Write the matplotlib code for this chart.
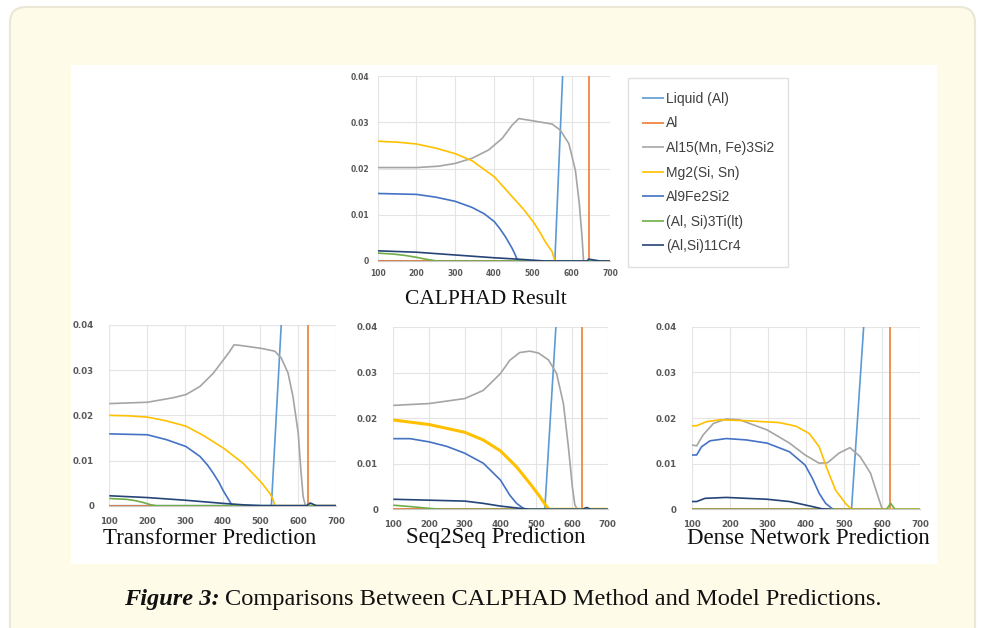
import matplotlib.pyplot as plt
from matplotlib.patches import FancyBboxPatch, Rectangle

W, H = 984, 628

names = ["Liquid (Al)", "Al", "Al15(Mn, Fe)3Si2", "Mg2(Si, Sn)",
         "Al9Fe2Si2", "(Al, Si)3Ti(lt)", "(Al,Si)11Cr4"]
colors = ["#5b9bd5", "#ed7d31", "#a5a5a5", "#ffc000", "#4472c4", "#70ad47", "#264478"]
xticks = [100, 200, 300, 400, 500, 600, 700]
yticks = [0, 0.01, 0.02, 0.03, 0.04]
ytick_labels = ["0", "0.01", "0.02", "0.03", "0.04"]

# CALPHAD result
calphad_liquid = [(100, 0), (557, 0), (577, 0.04)]
calphad_al = [(100, 0), (645, 0), (645, 0.04)]
calphad_al15 = [(100, 0.0202), (200, 0.0202), (257, 0.0205), (300, 0.0211), (343, 0.0222),
                (386, 0.0240), (421, 0.0265), (447, 0.0294), (464, 0.0308), (501, 0.0303),
                (550, 0.0296), (571, 0.0283), (593, 0.0254), (610, 0.0196), (620, 0.0124),
                (627, 0.0053), (631, 0), (700, 0)]
calphad_mg2 = [(100, 0.0259), (150, 0.0257), (200, 0.0253), (250, 0.0244), (300, 0.0232),
               (343, 0.0217), (401, 0.0182), (447, 0.0139), (475, 0.0113), (501, 0.0085),
               (520, 0.0060), (532, 0.0042), (550, 0.0020), (557, 0), (700, 0)]
calphad_al9 = [(100, 0.0146), (200, 0.0144), (250, 0.0138), (300, 0.0129), (343, 0.0116),
               (375, 0.0102), (401, 0.0085), (415, 0.0070), (429, 0.0053), (447, 0.0027),
               (455, 0.0013), (461, 0), (700, 0)]
calphad_ti = [(100, 0.0017), (140, 0.0015), (171, 0.0012), (200, 0.0008), (223, 0.0004),
              (253, 0), (700, 0)]
calphad_cr4 = [(100, 0.0022), (200, 0.0019), (300, 0.0013), (400, 0.0007), (461, 0.0004),
               (532, 0), (640, 0), (644, 0.0004), (674, 0), (700, 0)]

# Transformer prediction
trans_liquid = [(100, 0), (529, 0), (555, 0.04)]
trans_al = [(100, 0), (626, 0), (626, 0.04)]
trans_al15 = [(100, 0.0226), (201, 0.0229), (269, 0.0239), (303, 0.0246), (340, 0.0264),
              (375, 0.0293), (403, 0.0324), (419, 0.0342), (430, 0.0356), (445, 0.0355),
              (504, 0.0348), (538, 0.0342), (555, 0.0327), (573, 0.0294), (586, 0.0242),
              (600, 0.0161), (607, 0.0079), (613, 0.0020), (619, 0), (700, 0)]
trans_mg2 = [(100, 0.0200), (150, 0.0199), (201, 0.0196), (250, 0.0188), (303, 0.0176),
             (350, 0.0155), (403, 0.0127), (454, 0.0094), (504, 0.0050), (525, 0.0027),
             (534, 0.0013), (538, 0), (700, 0)]
trans_al9 = [(100, 0.0159), (201, 0.0157), (252, 0.0146), (303, 0.0131), (340, 0.0109),
             (360, 0.0090), (375, 0.0072), (390, 0.0052), (403, 0.0031), (419, 0.0009),
             (425, 0.0001), (430, 0), (700, 0)]
trans_ti = [(100, 0.0016), (146, 0.0014), (170, 0.0011), (190, 0.0007), (210, 0.0002),
            (225, 0), (700, 0)]
trans_cr4 = [(100, 0.0022), (201, 0.0018), (303, 0.0012), (403, 0.0005), (454, 0.0002),
             (504, 0), (622, 0), (632, 0.0006), (648, 0), (700, 0)]

# Seq2Seq prediction
seq_liquid = [(100, 0), (524, 0), (555, 0.04)]
seq_al = [(100, 0), (629, 0), (629, 0.04)]
seq_al15 = [(100, 0.0228), (200, 0.0232), (300, 0.0243), (352, 0.0261), (400, 0.0298),
            (426, 0.0327), (454, 0.0344), (482, 0.0347), (506, 0.0343), (534, 0.0328),
            (557, 0.0298), (576, 0.0232), (590, 0.0137), (601, 0.0050), (608, 0.0010),
            (615, 0), (700, 0)]
seq_mg2 = [(100, 0.0196), (200, 0.0186), (300, 0.0169), (352, 0.0152), (400, 0.0128),
           (445, 0.0093), (482, 0.0057), (510, 0.0028), (529, 0.0006), (535, 0), (700, 0)]
seq_al9 = [(100, 0.0155), (147, 0.0155), (200, 0.0148), (250, 0.0138), (300, 0.0123),
           (352, 0.0101), (400, 0.0064), (426, 0.0031), (445, 0.0013), (464, 0.0002),
           (478, 0), (700, 0)]
seq_ti = [(100, 0.0009), (147, 0.0006), (201, 0.0002), (240, 0), (700, 0)]
seq_cr4 = [(100, 0.0022), (200, 0.0020), (300, 0.0018), (352, 0.0013), (400, 0.0007),
           (445, 0.0003), (482, 0), (630, 0), (641, 0.0004), (652, 0), (700, 0)]

# Dense network prediction
dense_liquid = [(100, 0), (520, 0), (552, 0.04)]
dense_al = [(100, 0), (622, 0), (622, 0.04)]
dense_al15 = [(100, 0.0141), (113, 0.0139), (130, 0.0163), (157, 0.0188), (191, 0.0198),
              (226, 0.0196), (298, 0.0174), (357, 0.0145), (398, 0.0119), (435, 0.0101),
              (457, 0.0102), (487, 0.0123), (516, 0.0135), (543, 0.0115), (570, 0.0079),
              (587, 0.0035), (600, 0.0002), (605, 0), (700, 0)]
dense_mg2 = [(100, 0.0183), (113, 0.0183), (139, 0.0192), (174, 0.0196), (243, 0.0194),
             (330, 0.0190), (374, 0.0182), (409, 0.0166), (435, 0.0137), (457, 0.0086),
             (478, 0.0042), (504, 0.0013), (520, 0), (700, 0)]
dense_al9 = [(100, 0.0119), (113, 0.0119), (126, 0.0137), (148, 0.0150), (191, 0.0155),
             (243, 0.0152), (298, 0.0145), (357, 0.0126), (398, 0.0097), (417, 0.0068),
             (435, 0.0035), (452, 0.0013), (470, 0.0001), (478, 0)]
dense_ti = [(100, 0), (612, 0), (623, 0.0013), (634, 0), (700, 0)]
dense_cr4 = [(100, 0.0017), (113, 0.0017), (135, 0.0024), (191, 0.0026), (298, 0.0022),
             (357, 0.0017), (417, 0.0006), (443, 0.0001), (465, 0)]

# title, axes box in pixels (left, top, right, bottom), title centre, tick size, title size, series
panels = [
    ("CALPHAD Result", (377.7, 76, 610.3, 261), (486, 300), 5.5, 15.5,
     [calphad_liquid, calphad_al, calphad_al15, calphad_mg2, calphad_al9, calphad_ti, calphad_cr4]),
    ("Transformer Prediction", (109.3, 325, 336, 505.7), (210, 538), 6.2, 16.5,
     [trans_liquid, trans_al, trans_al15, trans_mg2, trans_al9, trans_ti, trans_cr4]),
    ("Seq2Seq Prediction", (393.3, 327, 607.7, 509.3), (496, 538), 6.2, 16.5,
     [seq_liquid, seq_al, seq_al15, seq_mg2, seq_al9, seq_ti, seq_cr4]),
    ("Dense Network Prediction", (691.7, 326.7, 920, 509.3), (808, 538), 6.2, 16.5,
     [dense_liquid, dense_al, dense_al15, dense_mg2, dense_al9, dense_ti, dense_cr4]),
]

fig = plt.figure(figsize=(W / 100, H / 100), dpi=100)
fig.patch.set_facecolor("white")

# page background: cream card + white figure area, in pixel units
bg = fig.add_axes([0, 0, 1, 1], zorder=-1)
bg.set_xlim(0, W)
bg.set_ylim(H, 0)
bg.axis("off")
bg.add_patch(FancyBboxPatch((10, 7), 965, 640, boxstyle="round,pad=0,rounding_size=16",
                            facecolor="#fffbe9", edgecolor="#ebe7d5", lw=1.5))
bg.add_patch(Rectangle((71, 65), 866, 499, facecolor="white", edgecolor="none"))

for title, (l, t, r, b), (tx, ty), fs, tfs, series in panels:
    ax = fig.add_axes([l / W, 1 - b / H, (r - l) / W, (b - t) / H])
    for i, pts in enumerate(series):
        xs = [p[0] for p in pts]
        ys = [p[1] for p in pts]
        lw = 1.2
        if title.startswith("Seq2Seq") and i == 3:
            lw = 2.2
        ax.plot(xs, ys, color=colors[i], lw=lw, label=names[i], zorder=2 + i,
                solid_capstyle="butt", solid_joinstyle="round")
    ax.set_xlim(100, 700)
    ax.set_ylim(0, 0.04)
    ax.set_xticks(xticks)
    ax.set_yticks(yticks)
    ax.set_yticklabels(ytick_labels)
    ax.grid(True, color="#e4e4e4", lw=0.8)
    ax.set_axisbelow(True)
    for s in ["top", "right", "left"]:
        ax.spines[s].set_visible(False)
    ax.spines["bottom"].set_color("#c8c8c8")
    ax.spines["bottom"].set_linewidth(0.8)
    ax.tick_params(length=0, labelsize=fs, labelcolor="#595959")
    if title.startswith("CALPHAD"):
        ax.tick_params(axis="x", pad=6)
        ax.tick_params(axis="y", pad=6)
    else:
        ax.tick_params(axis="x", pad=8)
        ax.tick_params(axis="y", pad=11)
    for lab in ax.get_xticklabels() + ax.get_yticklabels():
        lab.set_fontweight("bold")
    bg.text(tx, ty, title, ha="center", va="center", fontsize=tfs,
            family="Liberation Serif", color="#111111")
    if title.startswith("CALPHAD"):
        handles, labels = ax.get_legend_handles_labels()

leg = fig.legend(handles, labels, loc="upper left", bbox_to_anchor=(628 / W, 1 - 78 / H),
                 borderaxespad=0, frameon=True, fancybox=False,
                 handlelength=1.6, handletextpad=0.15, labelspacing=0.76, borderpad=1.0,
                 prop={"family": "Liberation Sans", "size": 10})
leg.get_frame().set_edgecolor("#d9d9d9")
leg.get_frame().set_linewidth(1.0)
for txt in leg.get_texts():
    txt.set_color("#404040")

# caption with bold italic lead-in
cap1 = bg.text(124, 600, "Figure 3:", ha="left", va="center", fontsize=17.6,
               family="Liberation Serif", weight="bold", style="italic", color="#111111")
fig.canvas.draw()
bb = cap1.get_window_extent()
x_end = bg.transData.inverted().transform((bb.x1, bb.y0))[0]
bg.text(x_end + 5, 600, "Comparisons Between CALPHAD Method and Model Predictions.",
        ha="left", va="center", fontsize=17.6, family="Liberation Serif", color="#111111")

fig.savefig("out.png", dpi=100)
